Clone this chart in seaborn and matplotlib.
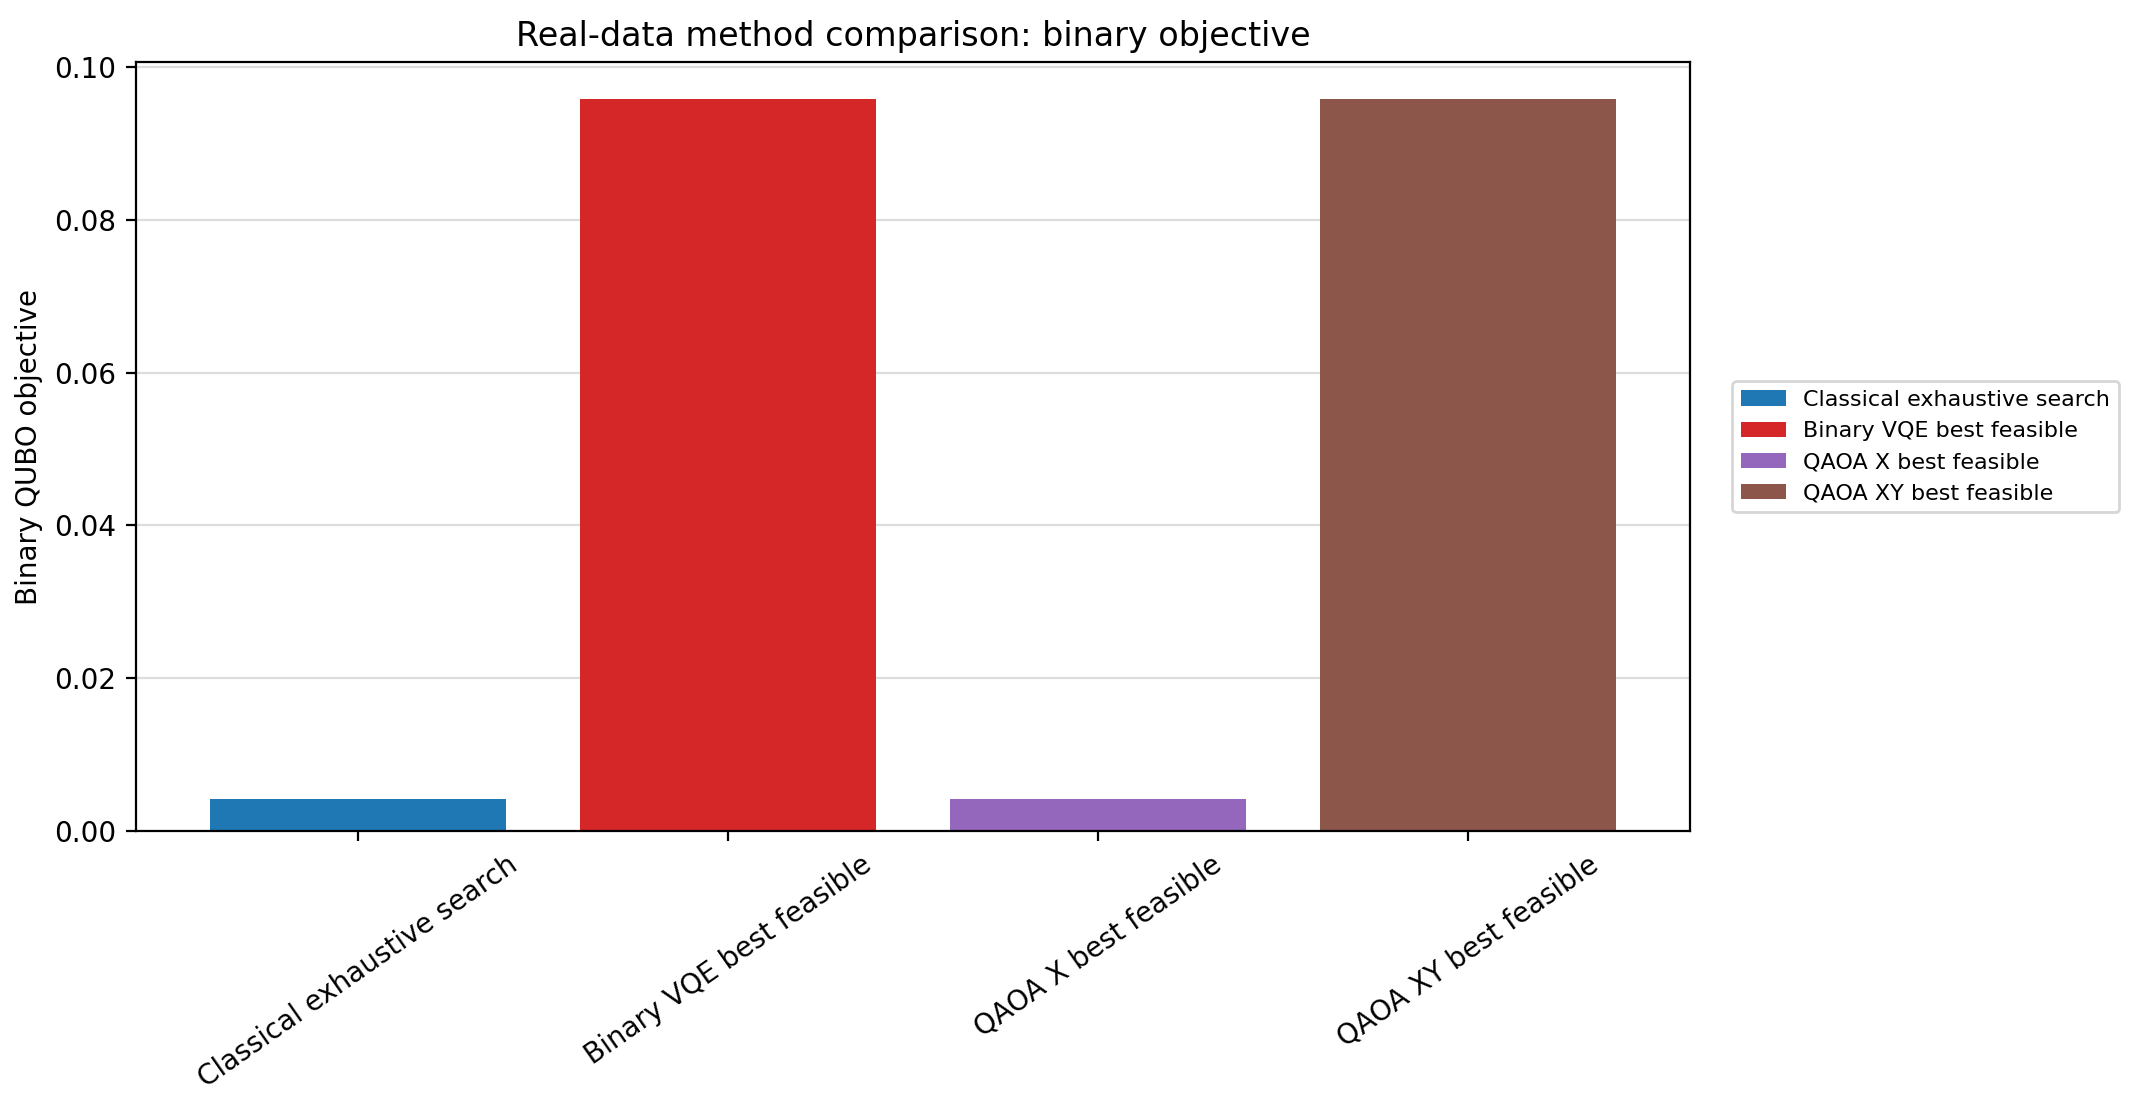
import matplotlib
matplotlib.use("Agg")
import matplotlib.pyplot as plt
import seaborn as sns
import pandas as pd
from matplotlib.patches import Patch

methods = ["Classical exhaustive search", "Binary VQE best feasible",
           "QAOA X best feasible", "QAOA XY best feasible"]
objective = [0.0042, 0.0958, 0.0042, 0.0958]
colors = ["#1f77b4", "#d62728", "#9467bd", "#8c564b"]

df = pd.DataFrame({"method": methods, "objective": objective})

fig = plt.figure(figsize=(2139 / 200, 1114 / 200), dpi=200)
ax = fig.add_axes([0.0636, 0.254, 0.7265, 0.690])
sns.barplot(data=df, x="method", y="objective", hue="method", order=methods,
            hue_order=methods, palette=colors, dodge=False, width=0.8,
            saturation=1, legend=False, ax=ax)
ax.set_axisbelow(True)
ax.yaxis.grid(True, color="#dddddd", linewidth=0.8)
ax.set_title("Real-data method comparison: binary objective", fontsize=12)
ax.set_ylabel("Binary QUBO objective", fontsize=10)
ax.set_xlabel("")
ax.tick_params(axis="x", labelrotation=35)
for lab in ax.get_xticklabels():
    lab.set_ha("center")
ax.set_xlim(-0.6, 3.6)
ax.set_ylim(0, max(objective) * 1.05)

handles = [Patch(facecolor=c, label=m) for c, m in zip(colors, methods)]
ax.legend(handles=handles, loc="center left", bbox_to_anchor=(1.02, 0.5),
          fontsize=8)
fig.savefig("out.png", dpi=200)
